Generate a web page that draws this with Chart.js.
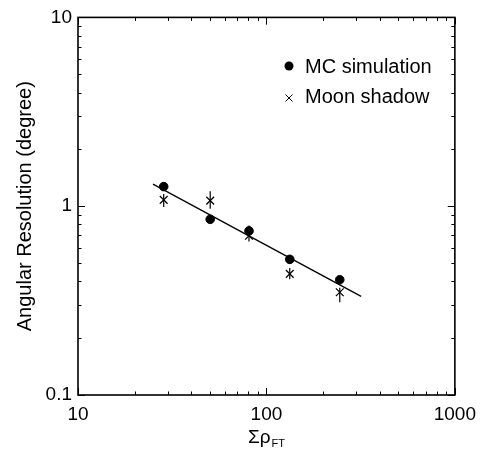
<!DOCTYPE html>
<html>
<head>
<meta charset="utf-8">
<script src="https://cdn.jsdelivr.net/npm/chart.js@4.4.1/dist/chart.umd.min.js"></script>
<style>
  html, body { margin: 0; padding: 0; background: #fff; }
  #wrap { width: 484px; height: 458px; }
</style>
</head>
<body>
<div id="wrap"><canvas id="res"></canvas></div>
<script>
// values
const rhoFT = [28.5, 50.3, 80.8, 133, 245];
const mcRes = [1.27, 0.852, 0.74, 0.523, 0.408];
const moonRes = [1.08, 1.07, 0.698, 0.438, 0.35];
const moonLo = [0.99, 0.97, 0.65, 0.41, 0.31];
const moonHi = [1.16, 1.20, 0.79, 0.47, 0.37];
const fitX = [25, 318];
const fitY = [1.31, 0.333];
const xTickLabels = [10, 100, 1000];
const yTickLabels = [0.1, 1, 10];

const FONT = "'Liberation Sans', Arial, sans-serif";

function isDecade(v) {
    const l = Math.log10(v);
    return Math.abs(l - Math.round(l)) < 1e-9;
}

const axesPlugin = {
    id: 'axesPlugin',
    beforeDatasetsDraw(chart) {
        // vertical error bars on the moon shadow points
        const ctx = chart.ctx;
        const xs = chart.scales.x, ys = chart.scales.y;
        ctx.save();
        ctx.strokeStyle = '#000';
        ctx.lineWidth = 1.2;
        for (let i = 0; i < rhoFT.length; i++) {
            const px = xs.getPixelForValue(rhoFT[i]);
            ctx.beginPath();
            ctx.moveTo(px, ys.getPixelForValue(moonLo[i]));
            ctx.lineTo(px, ys.getPixelForValue(moonHi[i]));
            ctx.stroke();
        }
        ctx.restore();
    },
    afterDraw(chart) {
        const ctx = chart.ctx;
        const {left, right, top, bottom} = chart.chartArea;
        const xs = chart.scales.x, ys = chart.scales.y;
        ctx.save();
        ctx.strokeStyle = '#000';
        ctx.lineWidth = 1.6;
        ctx.strokeRect(left, top, right - left, bottom - top);

        // inward ticks on all four sides
        ctx.lineWidth = 1;
        ctx.beginPath();
        for (const d of [10, 100]) {
            for (let m = 1; m <= 10; m++) {
                const px = Math.round(xs.getPixelForValue(d * m)) + 0.5;
                const len = m === 1 || m === 10 ? 7 : 3.5;
                ctx.moveTo(px, bottom); ctx.lineTo(px, bottom - len);
                ctx.moveTo(px, top); ctx.lineTo(px, top + len);
            }
        }
        for (const d of [0.1, 1]) {
            for (let m = 1; m <= 10; m++) {
                const py = Math.round(ys.getPixelForValue(d * m)) + 0.5;
                const len = m === 1 || m === 10 ? 7 : 3.5;
                ctx.moveTo(left, py); ctx.lineTo(left + len, py);
                ctx.moveTo(right, py); ctx.lineTo(right - len, py);
            }
        }
        ctx.stroke();

        // legend
        ctx.fillStyle = '#000';
        ctx.font = '20px ' + FONT;
        ctx.textBaseline = 'alphabetic';
        ctx.textAlign = 'left';
        ctx.beginPath();
        ctx.arc(289, 66, 4.5, 0, Math.PI * 2);
        ctx.fill();
        ctx.fillText('MC simulation', 305, 73);
        ctx.lineWidth = 1;
        ctx.beginPath();
        ctx.moveTo(285.5, 94.5); ctx.lineTo(292.5, 101.5);
        ctx.moveTo(292.5, 94.5); ctx.lineTo(285.5, 101.5);
        ctx.stroke();
        ctx.fillText('Moon shadow', 305, 103);

        // x axis title with subscript
        const cx = (left + right) / 2;
        ctx.font = '19px ' + FONT;
        const w1 = ctx.measureText('\u03a3\u03c1').width;
        ctx.font = '11px ' + FONT;
        const w2 = ctx.measureText('FT').width;
        const x0 = cx - (w1 + w2 + 1) / 2;
        ctx.font = '19px ' + FONT;
        ctx.fillText('\u03a3\u03c1', x0, 443);
        ctx.font = '11px ' + FONT;
        ctx.fillText('FT', x0 + w1 + 1, 447);
        ctx.restore();
    }
};

new Chart(document.getElementById('res'), {
    type: 'scatter',
    data: {
        datasets: [{
            label: 'MC simulation',
            data: rhoFT.map((x, i) => ({x: x, y: mcRes[i]})),
            pointStyle: 'circle',
            pointRadius: 4.3,
            borderWidth: 1,
            borderColor: '#000',
            backgroundColor: '#000'
        }, {
            label: 'Moon shadow',
            data: rhoFT.map((x, i) => ({x: x, y: moonRes[i]})),
            pointStyle: 'crossRot',
            pointRadius: 5.5,
            borderWidth: 1.2,
            borderColor: '#000',
            backgroundColor: '#000'
        }, {
            type: 'line',
            label: 'fit',
            data: fitX.map((x, i) => ({x: x, y: fitY[i]})),
            borderColor: '#000',
            borderWidth: 1.3,
            pointRadius: 0,
            fill: false
        }]
    },
    options: {
        responsive: true,
        maintainAspectRatio: false,
        animation: false,
        layout: { padding: { top: 16, right: 27, left: 0, bottom: 0 } },
        plugins: {
            legend: { display: false },
            tooltip: { enabled: false }
        },
        scales: {
            x: {
                type: 'logarithmic',
                min: 10,
                max: 1000,
                grid: { display: false, drawTicks: false },
                border: { display: false },
                ticks: {
                    autoSkip: false,
                    maxRotation: 0,
                    padding: 8,
                    color: '#000',
                    font: { size: 19, family: FONT },
                    callback: v => (isDecade(v) && xTickLabels.includes(Math.round(v))) ? String(Math.round(v)) : ''
                },
                afterFit(s) { s.height = 63; }
            },
            y: {
                type: 'logarithmic',
                min: 0.1,
                max: 10,
                grid: { display: false, drawTicks: false },
                border: { display: false },
                ticks: {
                    autoSkip: false,
                    padding: 6,
                    color: '#000',
                    font: { size: 19, family: FONT },
                    callback: v => isDecade(v) ? String(yTickLabels.find(t => Math.abs(t - v) < 1e-9 * Math.max(1, v)) ?? '') : ''
                },
                title: {
                    display: true,
                    text: 'Angular Resolution (degree)',
                    color: '#000',
                    font: { size: 20, family: FONT },
                    padding: { top: 13, bottom: 0 }
                },
                afterFit(s) { s.width = 78; }
            }
        }
    },
    plugins: [axesPlugin]
});
</script>
</body>
</html>
